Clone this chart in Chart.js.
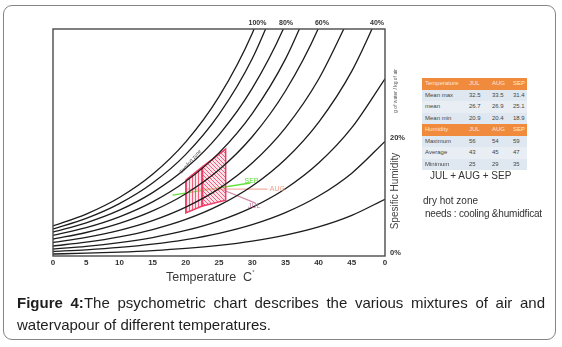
<!DOCTYPE html>
<html><head><meta charset="utf-8">
<script src="https://cdn.jsdelivr.net/npm/chart.js@4.4.0/dist/chart.umd.min.js"></script>
<style>
html,body{margin:0;padding:0;background:#fff;width:562px;height:347px;overflow:hidden;font-family:"Liberation Sans",Arial,sans-serif;}
#frame{position:absolute;left:3px;top:5px;width:551px;height:333px;border:1.5px solid #858585;border-radius:9px;}
#wrap{position:absolute;left:0;top:0;width:562px;height:347px;}
.abs{position:absolute;white-space:nowrap;}
#xtitle{left:166px;top:270px;font-size:12.5px;color:#3a3a3a;}
#xtitle sup{font-size:6px;position:relative;top:-2px;}
#ytitle{left:394px;top:191px;font-size:10px;color:#444;transform:translate(-50%,-50%) rotate(-90deg);}
#yunit{left:395px;top:91px;font-size:5px;color:#555;transform:translate(-50%,-50%) rotate(-90deg);}
#caption1{position:absolute;left:17px;top:292px;width:528px;font-size:15px;line-height:22px;color:#1e1e1e;text-align:justify;text-align-last:justify;white-space:nowrap;}
#caption2{position:absolute;left:17px;top:314px;width:528px;font-size:15px;line-height:22px;color:#1e1e1e;}
#table{position:absolute;left:422px;top:78px;width:105px;}
.row{position:relative;height:11.5px;font-size:6px;line-height:11.5px;color:#444;}
.row span{position:absolute;top:0;}
.hdr{background:#f08a3c;color:#fde7d6;}
.dat{background:#dfe8f0;}
.dat.alt{background:#e8eef4;}
#months{left:430px;top:170px;font-size:10px;color:#333;}
#dry{left:423px;top:195px;font-size:10px;color:#333;}
#needs{left:425px;top:208px;font-size:10px;color:#333;letter-spacing:-0.2px;}
</style></head>
<body>
<div id="frame"></div>
<div id="wrap"><canvas id="c" width="562" height="347"></canvas></div>
<div class="abs" id="xtitle">Temperature&nbsp; C<sup>°</sup></div>
<div class="abs" id="ytitle">Spesific Humidity</div>
<div class="abs" id="yunit">g of water / kg of air</div>
<div id="table"></div>
<div class="abs" id="months">JUL + AUG + SEP</div>
<div class="abs" id="dry">dry hot zone</div>
<div class="abs" id="needs">needs : cooling &amp;humidficat</div>
<div id="caption1"><b>Figure 4:</b>The psychometric chart describes the various mixtures of air and</div>
<div id="caption2">watervapour of different temperatures.</div>
<script>
// ---- data ----
const temperatures = [0, 5, 10, 15, 20, 25, 30, 35, 40, 45, 50];
const xTickLabels = ['0', '5', '10', '15', '20', '25', '30', '35', '40', '45', '0'];
const yTickValues = [0, 20];
const yTickLabels = ['0%', '20%'];
const rhNames = ['100%', '90%', '80%', '70%', '60%', '50%', '40%', '30%', '20%', '10%'];
const rh100 = [5.22, 7.29, 10.18, 14.22, 19.86, 27.73, 38.73, 54.1];
const rh90  = [4.70, 6.55, 9.12, 12.70, 17.69, 24.64, 34.32, 47.8];
const rh80  = [4.17, 5.77, 7.97, 11.03, 15.25, 21.09, 29.16, 40.33, 55.8];
const rh70  = [3.57, 4.93, 6.81, 9.41, 13.0, 17.95, 24.79, 34.25, 47.3];
const rh60  = [2.96, 4.09, 5.67, 7.84, 10.84, 15.0, 20.75, 28.71, 39.7, 54.9];
const rh50  = [2.35, 3.24, 4.47, 6.16, 8.50, 11.72, 16.17, 22.29, 30.75, 42.4];
const rh40  = [1.74, 2.41, 3.33, 4.60, 6.36, 8.80, 12.17, 16.83, 23.27, 32.17, 44.5];
const rh30  = [1.22, 1.68, 2.33, 3.21, 4.44, 6.13, 8.47, 11.70, 16.17, 22.33, 30.84];
const rh20  = [0.78, 1.08, 1.49, 2.06, 2.85, 3.94, 5.45, 7.54, 10.43, 14.42, 19.94];
const rh10  = [0.35, 0.49, 0.68, 0.95, 1.33, 1.86, 2.60, 3.63, 5.06, 7.07, 9.88];
const rhCurves = [rh100, rh90, rh80, rh70, rh60, rh50, rh40, rh30, rh20, rh10];
const topLabels = ['100%', '80%', '60%', '40%'];
const topLabelTemps = [30.8, 35.1, 40.5, 48.8];
const zoneLeftT = [20, 22.5, 22.5, 20, 20];
const zoneLeftW = [13.2, 15.5, 8.7, 7.5, 13.2];
const zoneRightT = [22.5, 26, 26, 22.5, 22.5];
const zoneRightW = [15.5, 18.6, 9.7, 8.7, 15.5];
const sepT = [18, 29.7], sepW = [10.6, 12.7];
const augT = [20, 32.3], augW = [11.65, 11.65];
const julT = [25, 30.5], julW = [11.8, 9.2];
const monthNames = ['SEP', 'AUG', 'JUL'];
const monthLabelT = [29.9, 33.8, 30.3];
const monthLabelW = [13.0, 11.65, 8.7];
const comfortLabel = 'Comfort zone';
const tableCols = ['JUL', 'AUG', 'SEP'];
const tempRows = ['Mean max', 'mean', 'Mean min'];
const tempJul = ['32.5', '26.7', '20.9'];
const tempAug = ['33.5', '26.9', '20.4'];
const tempSep = ['31.4', '25.1', '18.9'];
const humRows = ['Maximum', 'Average', 'Minimum'];
const humJul = ['56', '43', '25'];
const humAug = ['54', '45', '29'];
const humSep = ['59', '47', '35'];

// ---- table ----
(function(){
  const t = document.getElementById('table');
  const colX = [47, 70, 91];
  function addRow(label, vals, cls){
    const r = document.createElement('div'); r.className = 'row ' + cls;
    const l = document.createElement('span'); l.style.left = '3px'; l.textContent = label; r.appendChild(l);
    vals.forEach((v,i)=>{ const s=document.createElement('span'); s.style.left=colX[i]+'px'; s.textContent=v; r.appendChild(s); });
    t.appendChild(r);
  }
  addRow('Temperature', tableCols, 'hdr');
  tempRows.forEach((n,i)=>addRow(n,[tempJul[i],tempAug[i],tempSep[i]], i%2 ? 'dat alt':'dat'));
  addRow('Humidity', tableCols, 'hdr');
  humRows.forEach((n,i)=>addRow(n,[humJul[i],humAug[i],humSep[i]], i%2 ? 'dat alt':'dat'));
})();

// ---- patterns ----
function makePattern(kind){
  const c = document.createElement('canvas'); const s = kind==='v'?3:4;
  c.width = s; c.height = s;
  const x = c.getContext('2d');
  x.fillStyle = 'rgba(250,175,195,0.35)'; x.fillRect(0,0,s,s);
  x.strokeStyle = 'rgba(240,70,105,0.85)'; x.lineWidth = 1;
  x.beginPath();
  if (kind==='v'){ x.moveTo(0.5,0); x.lineTo(0.5,s); }
  else { x.moveTo(0,0); x.lineTo(s,s); x.moveTo(-1,s-1); x.lineTo(1,s+1); x.moveTo(s-1,-1); x.lineTo(s+1,1); }
  x.stroke();
  return x.createPattern(c,'repeat');
}
const pts = (xs, ys) => ys.map((v,i)=>({x:xs[i], y:v}));

const datasets = rhCurves.map((arr,i)=>({
  label: rhNames[i], data: pts(temperatures, arr), showLine:true,
  borderColor:'#1c1c1c', borderWidth:1.3, pointRadius:0, cubicInterpolationMode:'monotone', fill:false
}));
datasets.push({label:'zoneL', data: pts(zoneLeftT, zoneLeftW), showLine:true, borderColor:'#ee3d66', borderWidth:1.5, pointRadius:0, tension:0, fill:'shape', backgroundColor: makePattern('v')});
datasets.push({label:'zoneR', data: pts(zoneRightT, zoneRightW), showLine:true, borderColor:'#ee3d66', borderWidth:1.5, pointRadius:0, tension:0, fill:'shape', backgroundColor: makePattern('d')});
datasets.push({label:'AUG', data: pts(augT, augW), showLine:true, borderColor:'#f6b2a6', borderWidth:1.2, pointRadius:0, fill:false});
datasets.push({label:'JUL', data: pts(julT, julW), showLine:true, borderColor:'#d08aa8', borderWidth:1.2, pointRadius:0, fill:false});
datasets.push({label:'SEP', data: pts(sepT, sepW), showLine:true, borderColor:'#66e03a', borderWidth:1.4, pointRadius:0, fill:false});

const monthColors = ['#5cd834', '#f0a08c', '#c27ba0'];

const decor = {
  id:'decor',
  afterDatasetsDraw(chart){
    const {ctx, chartArea:a, scales:{x,y}} = chart;
    ctx.save();
    ctx.strokeStyle = '#4a4a4a'; ctx.lineWidth = 1.4;
    ctx.strokeRect(a.left, a.top, a.right-a.left, a.bottom-a.top);
    ctx.fillStyle = '#333'; ctx.font = 'bold 7px "Liberation Sans", Arial';
    ctx.textAlign = 'center'; ctx.textBaseline = 'middle';
    topLabels.forEach((t,i)=> ctx.fillText(t, x.getPixelForValue(topLabelTemps[i]), a.top - 6));
    ctx.font = '7px "Liberation Sans", Arial';
    monthNames.forEach((m,i)=>{ ctx.fillStyle = monthColors[i]; ctx.fillText(m, x.getPixelForValue(monthLabelT[i]), y.getPixelForValue(monthLabelW[i])); });
    ctx.translate(x.getPixelForValue(20.7), y.getPixelForValue(16.4));
    ctx.rotate(-0.85);
    ctx.font = '5px "Liberation Sans", Arial'; ctx.fillStyle = '#444';
    ctx.fillText(comfortLabel, 0, 0);
    ctx.restore();
  }
};

new Chart(document.getElementById('c'), {
  type:'scatter',
  data:{datasets},
  options:{
    responsive:false, animation:false, devicePixelRatio:1,
    layout:{padding:{left:53, top:29, right:147, bottom:71}},
    plugins:{legend:{display:false}, tooltip:{enabled:false}},
    scales:{
      x:{type:'linear', min:0, max:50, grid:{display:false, drawTicks:false}, border:{display:false},
         afterFit(s){ s.height = 20; },
         ticks:{stepSize:5, autoSkip:false, maxRotation:0, padding:2, color:'#333',
                font:{family:'"Liberation Sans", Arial', size:8, weight:'bold'},
                callback:(v,i)=> xTickLabels[i]}},
      y:{type:'linear', position:'right', min:0, max:39.5, grid:{display:false, drawTicks:false}, border:{display:false},
         afterFit(s){ s.width = 30; },
         afterBuildTicks(s){ s.ticks = yTickValues.map(v=>({value:v})); },
         ticks:{padding:5, labelOffset:-3, color:'#333', font:{family:'"Liberation Sans", Arial', size:7.5, weight:'bold'},
                callback:(v,i)=> yTickLabels[i]}}
    }
  },
  plugins:[decor]
});
</script>
</body></html>
